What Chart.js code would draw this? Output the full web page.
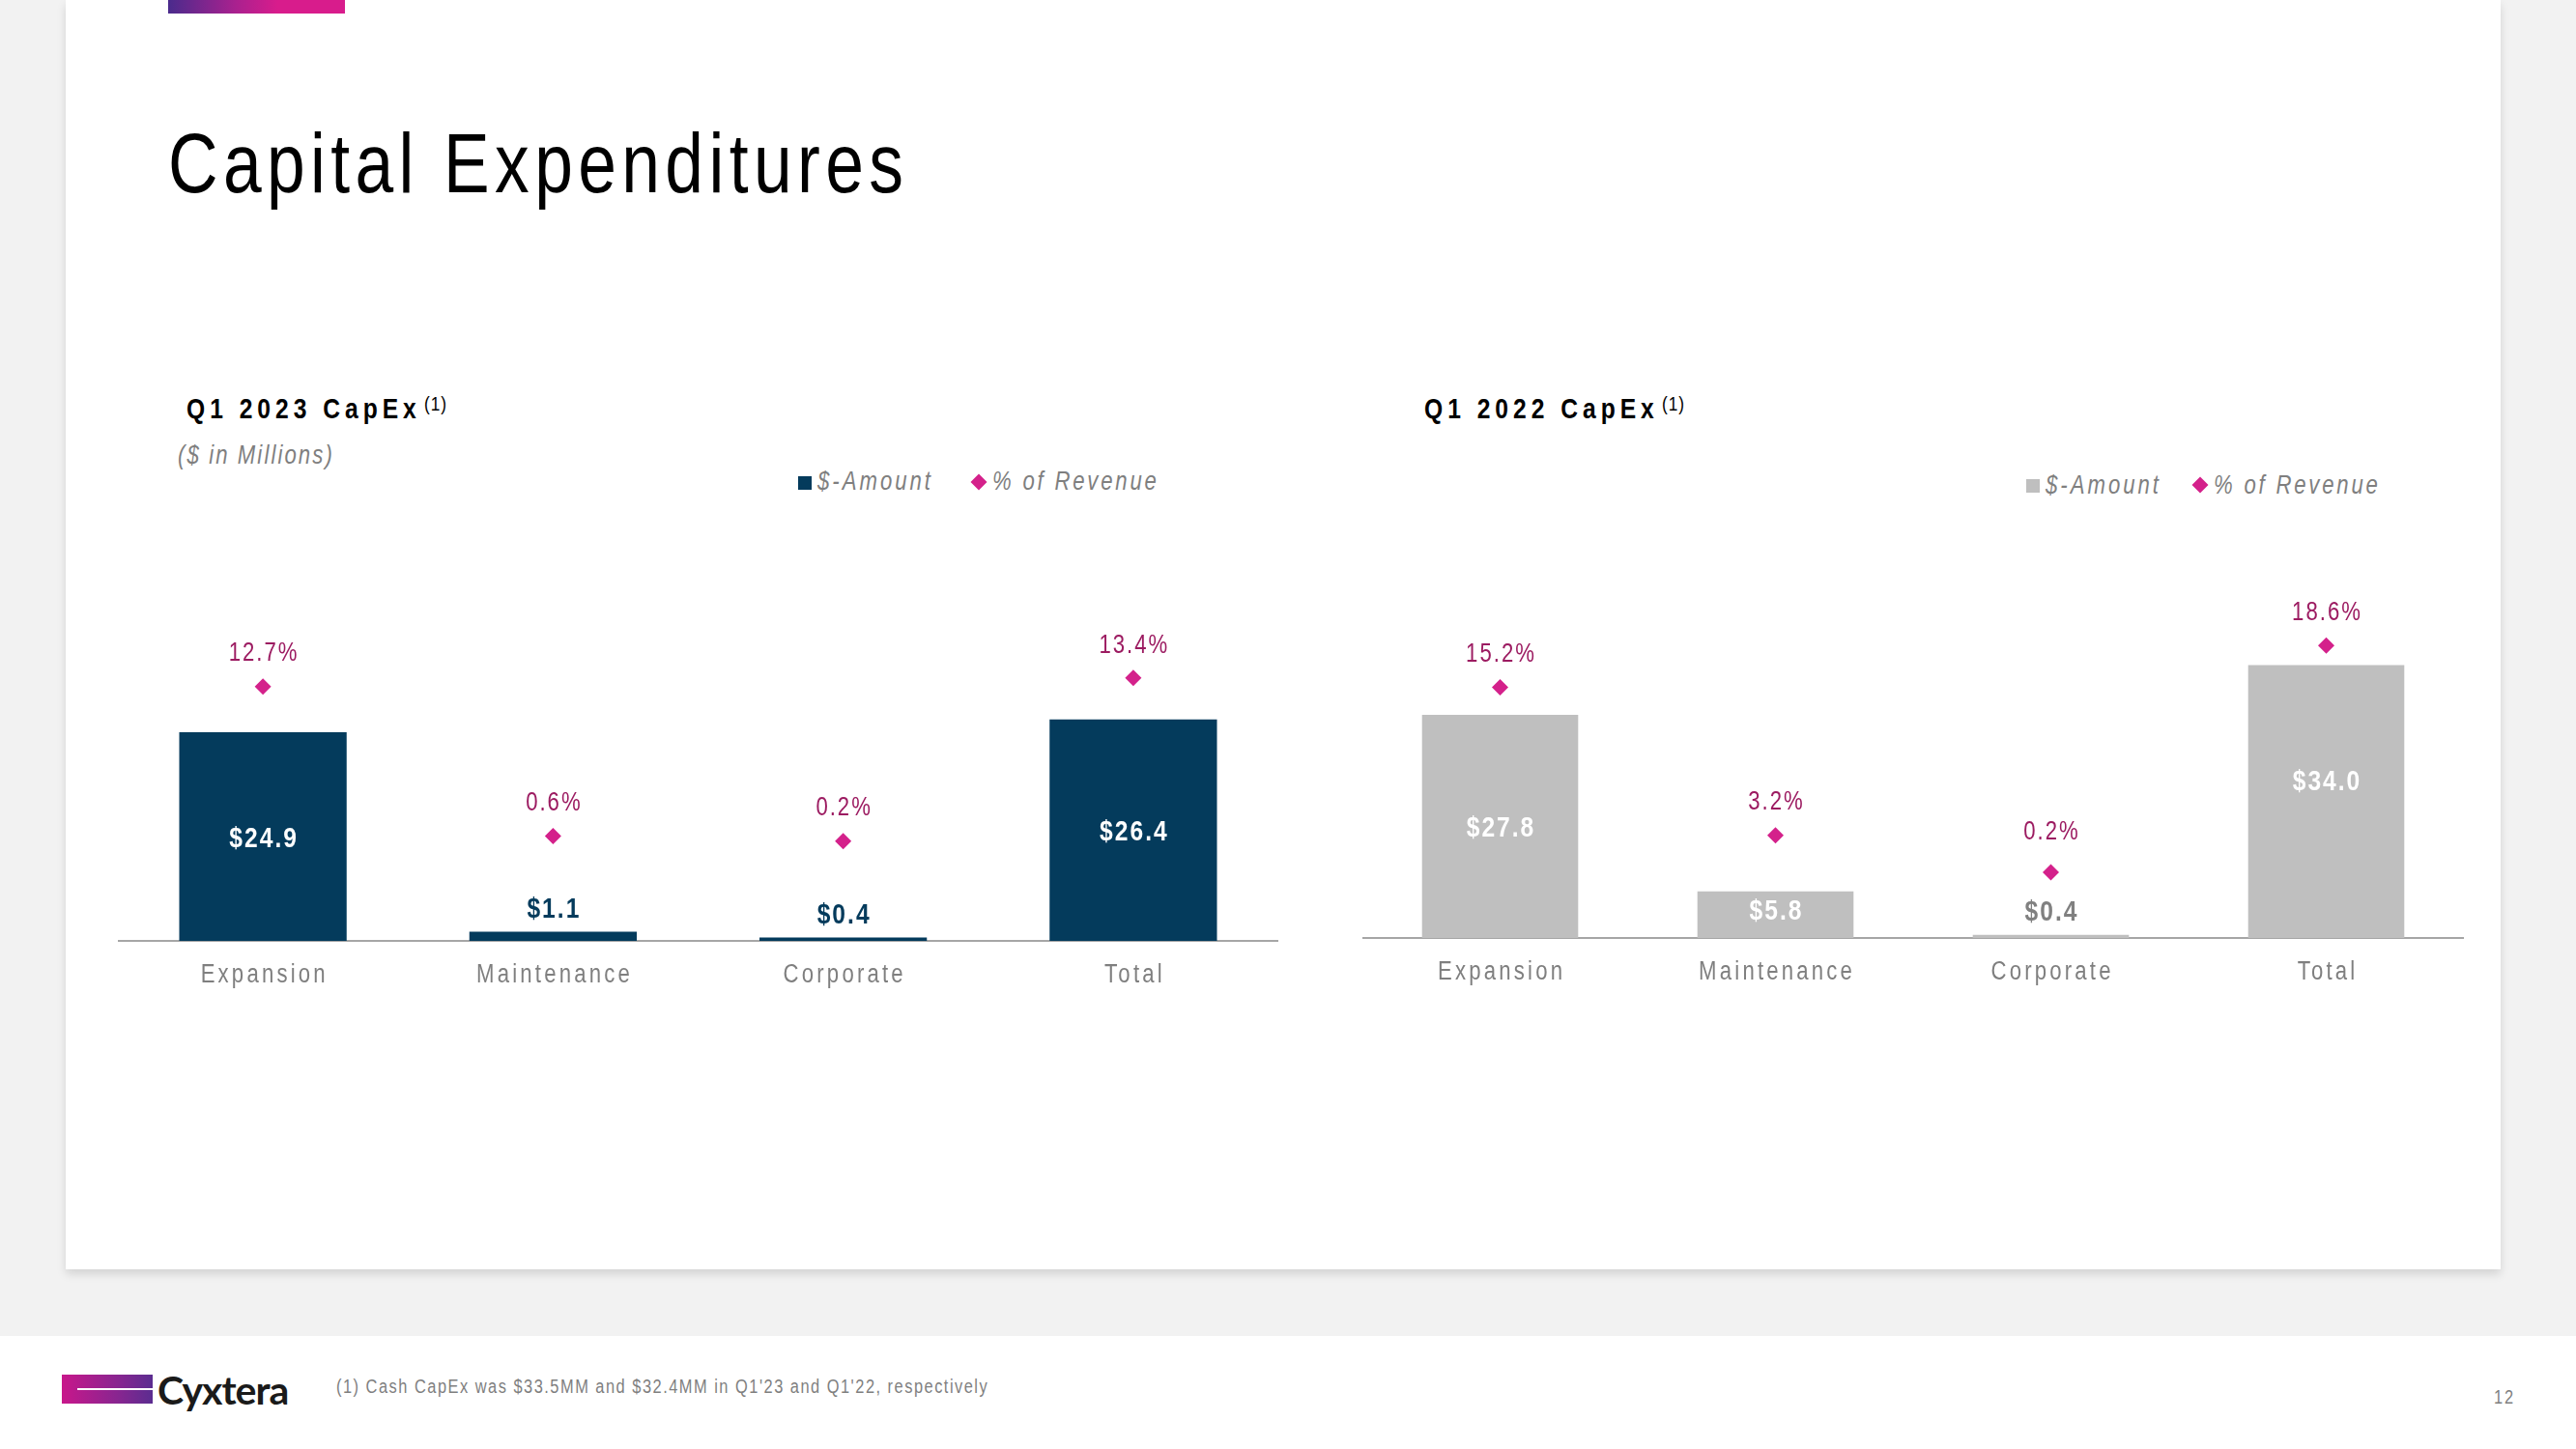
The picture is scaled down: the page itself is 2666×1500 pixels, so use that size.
<!DOCTYPE html>
<html><head><meta charset="utf-8">
<script src="https://cdn.jsdelivr.net/npm/chart.js@4.4.1/dist/chart.umd.min.js"></script>
<style>
html,body{margin:0;padding:0;}
body{width:2666px;height:1500px;background:#f2f2f2;position:relative;overflow:hidden;font-family:"Liberation Sans",Arial,sans-serif;}
#card{position:absolute;left:68px;top:0;width:2520px;height:1314px;background:#fff;box-shadow:0 5px 9px rgba(0,0,0,0.13);}
#footer{position:absolute;left:0;top:1383px;width:2666px;height:117px;background:#fff;}
#topbar{position:absolute;left:106px;top:0;width:183px;height:14px;background:linear-gradient(90deg,#4a2b8c 0%,#a9218f 38%,#d81c8c 62%,#d81c8c 100%);}
.t{position:absolute;white-space:nowrap;transform-origin:0 0;}
canvas{position:absolute;}
#logo{position:absolute;left:64px;top:1423px;width:94px;height:30px;background:linear-gradient(90deg,#c8178b 0%,#8a2590 60%,#5b2d90 100%);}
#logoLine{position:absolute;left:16px;top:14px;width:78px;height:2px;background:#fff;}
</style></head><body>
<div id="card"><div id="topbar"></div></div>
<div id="footer"></div>
<div id="logo"><div id="logoLine"></div></div>
<canvas id="c1" width="1201" height="484" style="left:122px;top:560px"></canvas>
<canvas id="c2" width="1140" height="481" style="left:1410px;top:560px"></canvas>
<script>
// ---- data ----
const categories = ['Expansion', 'Maintenance', 'Corporate', 'Total'];
const amount2023 = [24.9, 1.1, 0.4, 26.4];
const pct2023 = [12.7, 0.6, 0.2, 13.4];
const amount2022 = [27.8, 5.8, 0.4, 34.0];
const pct2022 = [15.2, 3.2, 0.2, 18.6];
const seriesNames = ['$-Amount', '% of Revenue'];

const FONT = '"Liberation Sans",Arial,sans-serif';
const NARROW = 0.82; // horizontal condensing to imitate a narrow face
const NAVY = '#043b5c', GRAYBAR = '#bfbfbf', MAGENTA = '#d4218b', PCTCOL = '#9c1b61', GRAYTXT = '#7f7f7f';

function txt(s, x, baseline, size, o) {
  o = o || {};
  const d = document.createElement('div');
  d.className = 't';
  d.textContent = s;
  d.style.left = x + 'px';
  d.style.top = (baseline - 0.8465 * size) + 'px';
  d.style.fontSize = size + 'px';
  d.style.lineHeight = size + 'px';
  d.style.color = o.color || '#000';
  if (o.bold) d.style.fontWeight = 'bold';
  if (o.italic) d.style.fontStyle = 'italic';
  const n = o.narrow === false ? 1 : NARROW;
  if (o.spacing != null) d.style.letterSpacing = (o.spacing / n) + 'px';
  if (n !== 1) d.style.transform = `scaleX(${n})`;
  if (o.family) d.style.fontFamily = o.family;
  document.body.appendChild(d);
  return d;
}

// title & subtitles
txt('Capital Expenditures', 174, 199, 87, {spacing: 5.4, color: '#000'});
txt('Q1 2023 CapEx', 193, 433, 30, {bold: true, spacing: 5});
txt('(1)', 439, 425, 21, {spacing: 1});
txt('Q1 2022 CapEx', 1474, 433, 30, {bold: true, spacing: 5});
txt('(1)', 1720, 425, 21, {spacing: 1});
txt('($ in Millions)', 184, 481, 27, {italic: true, spacing: 2.1, color: GRAYTXT});

// legends (HTML)
function legend(dx, dx2, dy, sqColor) {
  const sq = document.createElement('div');
  sq.style.cssText = `position:absolute;left:${826+dx}px;top:${493+dy}px;width:14px;height:14px;background:${sqColor}`;
  document.body.appendChild(sq);
  txt(seriesNames[0], 846 + dx, 508 + dy, 27, {italic: true, spacing: 3, color: GRAYTXT});
  const dm = document.createElement('div');
  dm.style.cssText = `position:absolute;left:${1013+dx2-6}px;top:${498.5+dy-6}px;width:12px;height:12px;background:${MAGENTA};transform:rotate(45deg)`;
  document.body.appendChild(dm);
  txt(seriesNames[1], 1027 + dx2, 508 + dy, 27, {italic: true, spacing: 2.8, color: GRAYTXT});
}
legend(0, 0, 0, NAVY);
legend(1271, 1264, 3.4, GRAYBAR);

// footer
txt('Cyxtera', 163, 1453, 41, {bold: true, spacing: -1, narrow: false, color: '#1a1a1a', family: 'Lato, "Open Sans", sans-serif'});
txt("(1) Cash CapEx was $33.5MM and $32.4MM in Q1'23 and Q1'22, respectively", 348, 1442, 20, {spacing: 1.5, color: GRAYTXT});
txt('12', 2581, 1453, 20, {spacing: 2, color: GRAYTXT});

// ---- charts ----
function narrowText(ctx, s, x, y, spacing) {
  ctx.save();
  ctx.translate(x + spacing / 2, y);
  ctx.scale(NARROW, 1);
  ctx.letterSpacing = (spacing / NARROW) + 'px';
  ctx.textAlign = 'center';
  ctx.textBaseline = 'alphabetic';
  ctx.fillText(s, 0, 0);
  ctx.restore();
}

const labelPlugin = {
  id: 'valueLabels',
  afterDatasetsDraw(chart, args, o) {
    const ctx = chart.ctx;
    ctx.save();
    const ptMeta = chart.getDatasetMeta(0), barMeta = chart.getDatasetMeta(1);
    const pcts = chart.data.datasets[0].data, amts = chart.data.datasets[1].data;
    const pn = o.pctNudge || [], vn = o.valueNudge || [];
    // % of revenue labels
    ctx.font = `27px ${FONT}`;
    ctx.fillStyle = PCTCOL;
    ptMeta.data.forEach((p, i) => narrowText(ctx, pcts[i].toFixed(1) + '%', p.x, p.y - 26.3 + (pn[i] || 0), 2));
    // $ amount labels
    ctx.font = `bold 30px ${FONT}`;
    barMeta.data.forEach((b, i) => {
      const h = b.base - b.y;
      let y;
      if (h > 40) { ctx.fillStyle = '#ffffff'; y = (b.y + b.base) / 2 + 10.7; }
      else { ctx.fillStyle = o.outsideColor; y = b.y - 14.9; }
      narrowText(ctx, '$' + amts[i].toFixed(1), b.x, y + (vn[i] || 0), 2);
    });
    // category labels along the x scale
    const xs = chart.scales.x;
    ctx.font = `27px ${FONT}`;
    ctx.fillStyle = GRAYTXT;
    xs.ticks.forEach((t, i) => narrowText(ctx, xs.getLabelForValue(t.value), xs.getPixelForTick(i), xs.top + 42.5, 3.2));
    ctx.restore();
  }
};

function makeChart(id, amounts, pcts, barColor, cfg) {
  return new Chart(document.getElementById(id), {
    type: 'bar',
    data: {
      labels: categories,
      datasets: [
        {type: 'line', label: seriesNames[1], data: pcts, yAxisID: 'y2', showLine: false,
         pointStyle: 'rectRot', pointRadius: 8.5, pointHoverRadius: 8.5, pointBorderWidth: 0,
         pointBackgroundColor: MAGENTA, backgroundColor: MAGENTA, borderColor: MAGENTA, order: 0},
        {type: 'bar', label: seriesNames[0], data: amounts, yAxisID: 'y', backgroundColor: barColor,
         borderWidth: 0, categoryPercentage: 1, barPercentage: cfg.barPct, order: 1}
      ]
    },
    options: {
      responsive: false, animation: false, devicePixelRatio: 1,
      layout: {autoPadding: false, padding: {top: 40, left: 0, right: 0, bottom: 0}},
      plugins: {legend: {display: false}, tooltip: {enabled: false},
                valueLabels: {outsideColor: cfg.outsideColor, pctNudge: cfg.pctNudge, valueNudge: cfg.valueNudge}},
      scales: {
        x: {grid: {display: false, drawTicks: false},
            border: {display: true, color: '#a6a6a6', width: 2},
            ticks: {display: false, autoSkip: false, maxRotation: 0},
            afterFit(s) { s.height = 70; }},
        y: {display: false, min: 0, max: cfg.yMax},
        y2: {display: false, min: cfg.y2Min, max: cfg.y2Max}
      }
    },
    plugins: [labelPlugin]
  });
}

makeChart('c1', amount2023, pct2023, NAVY,
  {barPct: 0.577, yMax: 43.09, y2Min: -7.88, y2Max: 21.36, outsideColor: NAVY});
makeChart('c2', amount2022, pct2022, GRAYBAR,
  {barPct: 0.567, yMax: 44.65, y2Min: -5.13, y2Max: 23.94, outsideColor: '#808080',
   pctNudge: [0, 0, -8, 0], valueNudge: [0, -6, 0, -22]});
</script>
</body></html>
